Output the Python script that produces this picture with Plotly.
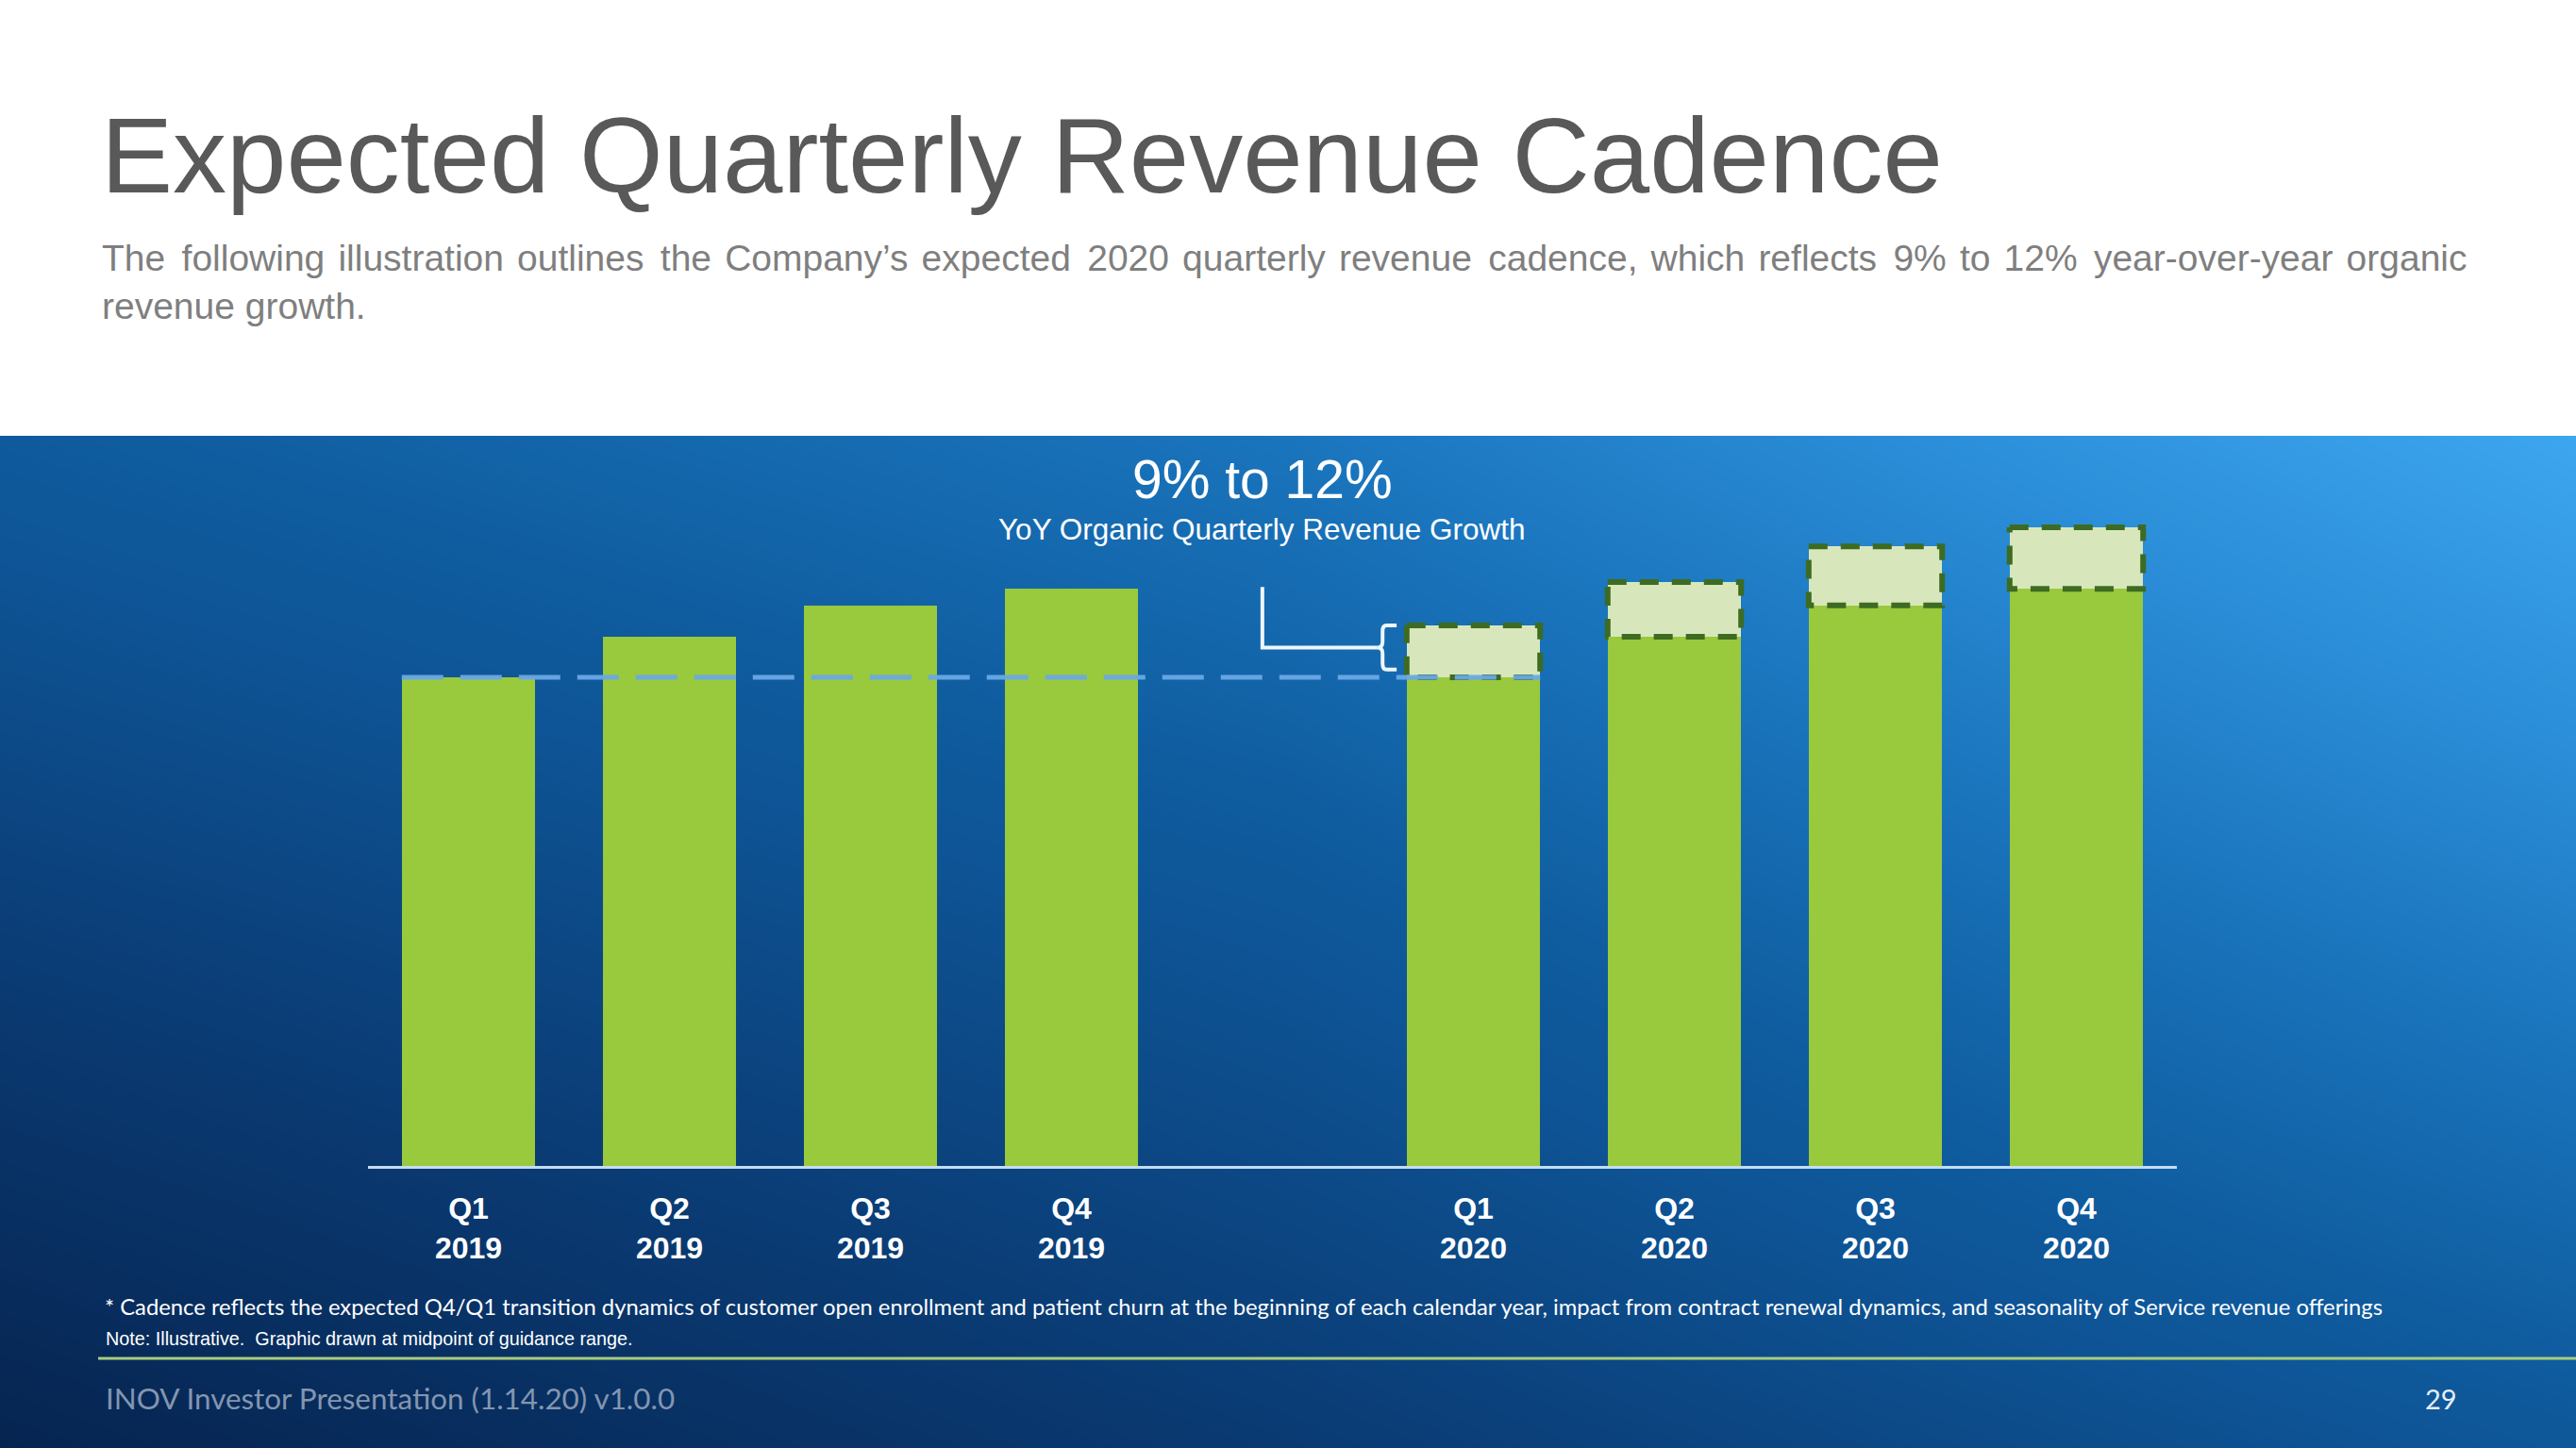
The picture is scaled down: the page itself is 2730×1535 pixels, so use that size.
import plotly.graph_objects as go

W, H = 2730, 1535

# ---------------- data ----------------
quarters = ["Q1", "Q2", "Q3", "Q4"]
years = ["2019", "2020"]
rev_2019 = [100.0, 108.3, 114.7, 118.1]          # illustrative index (Q1 2019 = 100)
rev_2020_base = [100.0, 108.3, 114.7, 118.1]     # prior-year level shown in solid green
rev_2020_mid = [110.6, 119.5, 126.8, 130.7]      # midpoint of guidance (dashed box top)
pos_2019 = [0, 1, 2, 3]
pos_2020 = [5, 6, 7, 8]
tick_pos = pos_2019 + pos_2020
tick_text = [f"<b>{q}<br>{y}</b>" for y in years for q in quarters]

growth_title = "9% to 12%"
growth_sub = "YoY Organic Quarterly Revenue Growth"

# ---------------- styles ----------------
GREEN = "#99c93c"
BOX_FILL = "#d8e7bb"
BOX_LINE = "#3d6b22"
BAR_W = 0.664

fig = go.Figure()

# background gradient (panel) on its own axes, drawn first
fig.add_trace(go.Heatmap(
    x=[0, 0.5, 1], y=[0, 0.5, 1],
    z=[[0.00, 0.20, 0.42],
       [0.22, 0.40, 0.70],
       [0.45, 0.64, 1.00]],
    zmin=0, zmax=1, zsmooth="best", showscale=False, hoverinfo="skip",
    colorscale=[[0.0, "#062450"], [0.2, "#0a3a72"], [0.4, "#0e5597"],
                [0.45, "#0e5a9c"], [0.64, "#1a75bd"], [0.8, "#2a8cd6"],
                [1.0, "#3ca6ee"]],
    xaxis="x", yaxis="y"))

# 2019 bars
fig.add_trace(go.Bar(x=pos_2019, y=rev_2019, width=BAR_W, marker_color=GREEN,
                     marker_line_width=0, xaxis="x2", yaxis="y2", hoverinfo="skip"))
# 2020 base bars
fig.add_trace(go.Bar(x=pos_2020, y=rev_2020_base, width=BAR_W, marker_color=GREEN,
                     marker_line_width=0, xaxis="x2", yaxis="y2", hoverinfo="skip"))
# 2020 growth boxes
growth = [m - b for m, b in zip(rev_2020_mid, rev_2020_base)]
fig.add_trace(go.Bar(x=pos_2020, y=growth, base=rev_2020_base, width=BAR_W,
                     marker_color=BOX_FILL, marker_line_width=0,
                     xaxis="x2", yaxis="y2", hoverinfo="skip"))

# dashed outline of growth boxes
ox, oy = [], []
for p, b, m in zip(pos_2020, rev_2020_base, rev_2020_mid):
    xl, xr = p - BAR_W / 2, p + BAR_W / 2
    ox += [xl, xr, xr, xl, xl, None]
    oy += [m, m, b, b, m, None]
fig.add_trace(go.Scatter(x=ox, y=oy, mode="lines",
                         line=dict(color=BOX_LINE, width=6, dash="20px,14px"),
                         xaxis="x2", yaxis="y2", hoverinfo="skip"))

# dashed reference line at Q1 2019 level
fig.add_trace(go.Scatter(x=[pos_2019[0] - BAR_W / 2, pos_2020[0] + BAR_W / 2],
                         y=[rev_2019[0], rev_2019[0]], mode="lines",
                         line=dict(color="rgba(106,168,230,0.95)", width=5, dash="44px,18px"),
                         xaxis="x2", yaxis="y2", hoverinfo="skip"))

# connector + brace
gap_x = (pos_2019[-1] + pos_2020[0]) / 2 - 0.05
top = rev_2020_mid[0]
bot = rev_2019[0] + 1.6
mid = (top + bot) / 2
xt = pos_2020[0] - BAR_W / 2 - 0.145
xb = xt + 0.025
xa = xb + 0.07
WHITE_LINE = "#eef6ff"
fig.add_trace(go.Scatter(x=[gap_x, gap_x, xt], y=[118.5, mid, mid], mode="lines",
                         line=dict(color=WHITE_LINE, width=4),
                         xaxis="x2", yaxis="y2", hoverinfo="skip"))
brace = (f"M {xa},{top} L {xb+0.02},{top} Q {xb},{top} {xb},{top-1.2} "
         f"L {xb},{mid+1.2} Q {xb},{mid} {xt},{mid} Q {xb},{mid} {xb},{mid-1.2} "
         f"L {xb},{bot+1.2} Q {xb},{bot} {xb+0.02},{bot} L {xa},{bot}")

shapes = [
    dict(type="path", path=brace, xref="x2", yref="y2",
         line=dict(color=WHITE_LINE, width=4)),
    # green separator line
    dict(type="line", xref="paper", yref="paper", x0=104 / W, x1=1, y0=1 - 1440 / H, y1=1 - 1440 / H,
         line=dict(color="#a9cd7c", width=3)),
]

panel_top = 462
baseline = 1236
px_per_unit = 5.18
y_max = (baseline - panel_top) / px_per_unit

def py(v):
    return 1 - v / H

# first subtitle line is justified in the original: widen word gaps slightly
words1 = ("The following illustration outlines the Company’s expected 2020 quarterly "
          "revenue cadence, which reflects 9% to 12% year-over-year organic").split(" ")
sub_line1 = words1[0]
for i, w in enumerate(words1[1:]):
    sub_line1 += (" \u200a\u200a" if i % 3 == 0 else " \u200a") + w
sub_line2 = "revenue growth."

annotations = [
    dict(text="Expected Quarterly Revenue Cadence", x=105 / W, y=py(164), xref="paper", yref="paper",
         xanchor="left", yanchor="middle", showarrow=False,
         font=dict(family="Liberation Sans, Arial", size=114, color="#595959")),
    dict(text=sub_line1 + "<br>" + sub_line2,
         x=106 / W, y=py(299), xref="paper", yref="paper", xanchor="left", yanchor="middle",
         align="left", showarrow=False,
         font=dict(family="Liberation Sans, Arial", size=39, color="#7f7f7f")),
    dict(text=growth_title, x=4 - 0.05, y=py(508), xref="x2", yref="paper",
         xanchor="center", yanchor="middle", showarrow=False,
         font=dict(family="Liberation Sans, Arial", size=57, color="white")),
    dict(text=growth_sub, x=4 - 0.05, y=py(561), xref="x2", yref="paper",
         xanchor="center", yanchor="middle", showarrow=False,
         font=dict(family="Liberation Sans, Arial", size=31.5, color="white")),
    dict(text="* Cadence reflects the expected Q4/Q1 transition dynamics of customer open enrollment and patient churn at the beginning of each calendar year, impact from contract renewal dynamics, and seasonality of Service revenue offerings",
         x=109 / W, y=py(1385), xref="paper", yref="paper", xanchor="left", yanchor="middle",
         showarrow=False, font=dict(family="Lato", size=23.8, color="white")),
    dict(text="Note: Illustrative.  Graphic drawn at midpoint of guidance range.",
         x=110 / W, y=py(1419), xref="paper", yref="paper", xanchor="left", yanchor="middle",
         showarrow=False, font=dict(family="Liberation Sans, Arial", size=19.8, color="white")),
    dict(text="INOV Investor Presentation (1.14.20) v1.0.0",
         x=110 / W, y=py(1482), xref="paper", yref="paper", xanchor="left", yanchor="middle",
         showarrow=False, font=dict(family="Lato", size=31.4, color="#8396b0")),
    dict(text="29", x=2587 / W, y=py(1482), xref="paper", yref="paper", xanchor="center",
         yanchor="middle", showarrow=False, font=dict(family="Lato", size=29, color="#e6eef8")),
]

fig.update_layout(
    width=W, height=H, margin=dict(l=0, r=0, t=0, b=0),
    paper_bgcolor="white", plot_bgcolor="rgba(0,0,0,0)",
    showlegend=False, barmode="overlay", bargap=0,
    xaxis=dict(domain=[0, 1], range=[0, 1], visible=False, fixedrange=True),
    yaxis=dict(domain=[0, 1 - panel_top / H], range=[0, 1], visible=False, fixedrange=True),
    xaxis2=dict(domain=[390 / W, 2307 / W], range=[-0.5, 8.5], anchor="y2",
                tickmode="array", tickvals=tick_pos, ticktext=tick_text,
                tickfont=dict(family="Liberation Sans, Arial", size=32, color="white"),
                ticks="", ticklabelstandoff=15,
                showline=True, linecolor="#c4dcf2", linewidth=3,
                showgrid=False, zeroline=False),
    yaxis2=dict(domain=[1 - baseline / H, 1 - panel_top / H], range=[0, y_max], anchor="x2",
                visible=False, showgrid=False, zeroline=False),
    shapes=shapes, annotations=annotations,
)

fig.write_html("out.html")
